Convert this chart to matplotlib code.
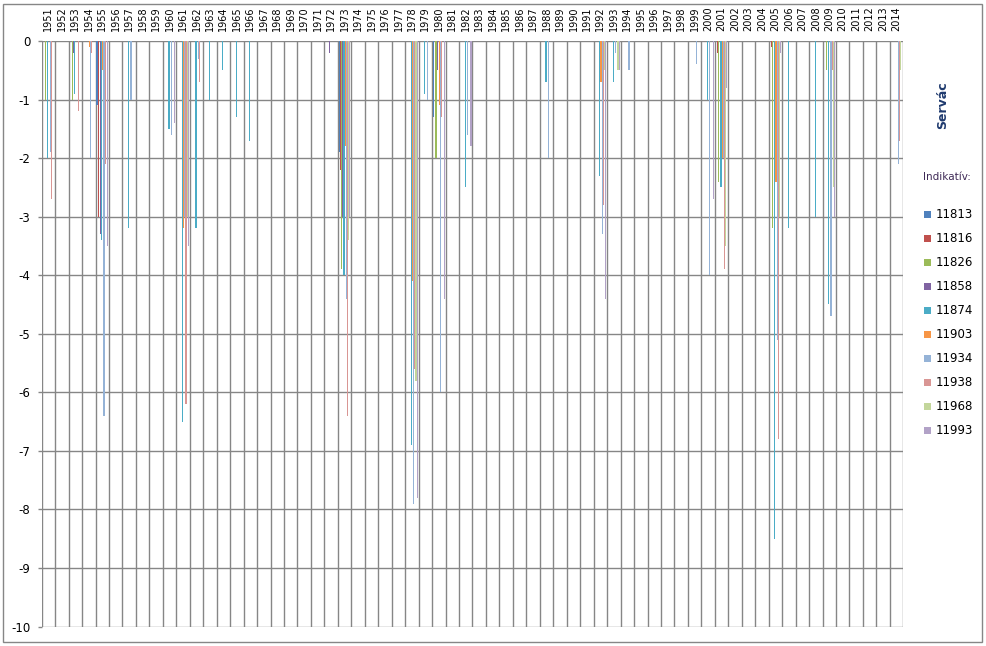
import matplotlib
matplotlib.use("Agg")
import matplotlib.pyplot as plt
from matplotlib.patches import Rectangle

years = list(range(1951, 2015))
series_names = ["11813", "11816", "11826", "11858", "11874",
                "11903", "11934", "11938", "11968", "11993"]
colors = ["#4F81BD", "#C0504D", "#9BBB59", "#8064A2", "#4BACC6",
          "#F79646", "#95B3D7", "#D99694", "#C3D69B", "#B2A2C7"]

s11813 = {1955: -1.1, 1973: -1.9, 1980: -1.3}
s11816 = {1955: -3.0, 1973: -2.2, 2001: -0.2, 2005: -0.1}
s11826 = {1951: -1.0, 1953: -1.0, 1973: -3.9, 1980: -2.0, 2001: -2.4,
          2005: -3.2, 2009: -0.5}
s11858 = {1953: -0.2, 1955: -3.3, 1972: -0.2, 1973: -3.0, 1980: -0.5}
s11874 = {1951: -2.0, 1953: -0.9, 1955: -3.4, 1957: -3.2, 1960: -1.5,
          1961: -6.5, 1962: -3.2, 1963: -1.0, 1964: -0.5, 1965: -1.3,
          1966: -1.7, 1973: -4.0, 1978: -6.9, 1979: -0.9, 1982: -2.5,
          1988: -0.7, 1992: -2.3, 1993: -0.7, 2000: -1.0, 2001: -2.5,
          2005: -8.5, 2006: -3.2, 2008: -3.0, 2009: -4.5}
s11903 = {1954: -0.1, 1955: -0.5, 1961: -3.2, 1973: -1.8, 1978: -4.1,
          1980: -1.1, 1992: -0.7, 2001: -2.0, 2005: -2.4}
s11934 = {1951: -1.9, 1954: -2.0, 1955: -6.4, 1957: -1.0, 1960: -1.6,
          1961: -3.0, 1962: -0.3, 1973: -4.4, 1978: -7.9, 1979: -1.0,
          1980: -6.0, 1982: -1.6, 1988: -2.0, 1992: -3.3, 1993: -0.2,
          1994: -0.5, 1999: -0.4, 2000: -4.0, 2001: -2.0, 2005: -5.1,
          2009: -4.7, 2014: -2.1}
s11938 = {1951: -2.7, 1953: -1.2, 1954: -0.2, 1955: -2.1, 1961: -6.2,
          1962: -0.7, 1973: -6.4, 1978: -5.6, 1980: -1.3, 1992: -2.8,
          2001: -3.9, 2005: -6.8, 2009: -0.5, 2014: -1.7}
s11968 = {1961: -3.0, 1973: -3.4, 1978: -5.8, 1992: -0.5, 1993: -0.5,
          2001: -3.5, 2005: -3.0, 2009: -2.5, 2014: -0.5}
s11993 = {1955: -3.5, 1960: -1.4, 1961: -3.5, 1973: -3.0, 1978: -7.8,
          1980: -4.4, 1982: -1.8, 1992: -4.4, 1993: -0.5, 2000: -2.7,
          2001: -0.8, 2005: -0.2, 2009: -3.0}
series = [s11813, s11816, s11826, s11858, s11874,
          s11903, s11934, s11938, s11968, s11993]
yticks = list(range(-10, 1))

W, H = 987, 646
fig = plt.figure(figsize=(W / 100, H / 100), dpi=100)
fig.patch.set_facecolor("white")

L, R, T, B = 41.7, 903.3, 41.0, 626.5
ax = fig.add_axes([L / W, 1 - B / H, (R - L) / W, (B - T) / H])

grid_c = "#868686"
n = len(series)
bw = 0.087
x0 = list(range(len(years)))
for k, (s, c) in enumerate(zip(series, colors)):
    vals = [s.get(y, 0.0) for y in years]
    xs = [i - n * bw / 2 + bw * (k + 0.5) for i in x0]
    ax.bar(xs, vals, width=bw, color=c, linewidth=0, zorder=3,
           antialiased=False)

ax.set_xlim(-0.5, len(years) - 0.5)
ax.set_ylim(-10, 0)

for i in range(len(years) + 1):
    ax.axvline(i - 0.5, color=grid_c, lw=1.0, zorder=1)
for v in yticks:
    ax.axhline(v, color=grid_c, lw=1.0, zorder=1)
for sp in ax.spines.values():
    sp.set_visible(False)

ax.xaxis.tick_top()
ax.set_xticks(x0)
ax.set_xticklabels([str(y) for y in years], rotation=90, fontsize=7,
                   family="DejaVu Sans", va="bottom", ha="center")
ax.tick_params(axis="x", length=0, pad=7)
ax.set_yticks(yticks)
ax.set_yticklabels([str(v) for v in yticks], fontsize=8.5, family="DejaVu Sans")
ax.tick_params(axis="y", length=3.2, width=1.0, color=grid_c, pad=5)

# legend & titles
fig.text(943 / W, 1 - 105 / H, "Servác", rotation=90, ha="center", va="center",
         fontsize=9, fontweight="bold", color="#1F3A6E", family="DejaVu Sans")
fig.text(947 / W, 1 - 176.7 / H, "Indikatív:", ha="center", va="center",
         fontsize=7.5, color="#3F2A56", family="DejaVu Sans")
y0, dy = 214.7, 24.03
for k, (name, c) in enumerate(zip(series_names, colors)):
    yc = y0 + k * dy
    fig.patches.append(Rectangle((924 / W, 1 - (yc + 3.5) / H), 7.5 / W, 7 / H,
                                 transform=fig.transFigure, facecolor=c,
                                 edgecolor="none"))
    fig.text(935.5 / W, 1 - yc / H, name, ha="left", va="center",
             fontsize=8.5, color="black", family="DejaVu Sans")

fig.patches.append(Rectangle((3 / W, 1 - 642 / H), 979 / W, 638 / H,
                             transform=fig.transFigure, facecolor="none",
                             edgecolor=grid_c, lw=1.0))

fig.savefig("out.png", dpi=100, facecolor="white")
